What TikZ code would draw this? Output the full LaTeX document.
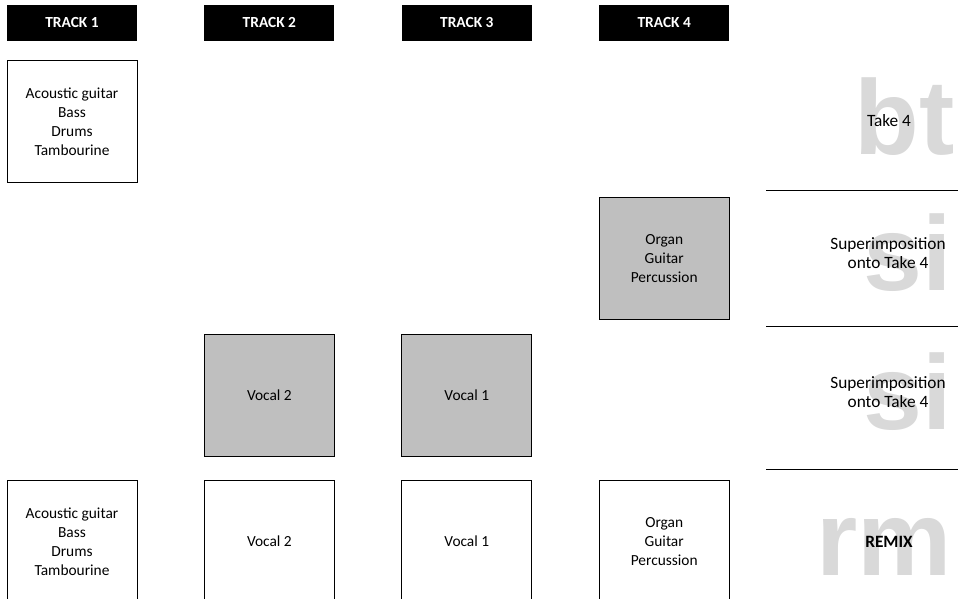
\documentclass[tikz,border=0pt]{standalone}
\usepackage{fontspec}
\setmainfont{Carlito}
\newfontfamily\tagfont{Liberation Sans}
\usetikzlibrary{positioning}
\definecolor{boxgray}{HTML}{BFBFBF}
\definecolor{biggray}{HTML}{D9D9D9}

\begin{document}
\begin{tikzpicture}[x=1pt,y=-1pt,node distance=67pt,font=\fontsize{15.4}{19}\selectfont]
            \tikzset{track/.style={fill=black, text=white, font=\fontsize{15.4}{19}\selectfont\bfseries, minimum width=130pt, minimum height=36pt, inner sep=0pt}}
            \tikzset{part/.style={draw, line width=1pt, minimum width=130pt, minimum height=122pt, inner sep=0pt, align=center}}
            \tikzset{overdub/.style={part, fill=boxgray}}
            \tikzset{tag/.style={text=biggray, font=\tagfont\fontsize{106}{106}\selectfont\bfseries, inner sep=0pt, anchor=base east}}
            \tikzset{stage/.style={align=center, inner sep=0pt, font=\fontsize{17.3}{19.5}\selectfont}}
            \useasboundingbox (0,0) rectangle (959,599);
            % track headers
            \node[track] (t1) at (72,23) {TRACK 1};
            \node[track, right=of t1] (t2) {TRACK 2};
            \node[track, right=of t2] (t3) {TRACK 3};
            \node[track, right=of t3] (t4) {TRACK 4};
            % recordings
            \node[part, below=19pt of t1] (a1) {Acoustic guitar\\Bass\\Drums\\Tambourine};
            \node[overdub, below=156pt of t4] (o4) {Organ\\Guitar\\Percussion};
            \node[overdub, below=293pt of t2] (v2) {Vocal 2};
            \node[overdub, below=293pt of t3] (v1) {Vocal 1};
            % remix
            \node[part, below=297pt of a1] (ra) {Acoustic guitar\\Bass\\Drums\\Tambourine};
            \node[part, below=23pt of v2] (rv2) {Vocal 2};
            \node[part, below=23pt of v1] (rv1) {Vocal 1};
            \node[part, below=160pt of o4] (ro) {Organ\\Guitar\\Percussion};
            % stages
            \node[tag] (bt) at (955,155) {bt};
            \node[tag] (si1) at (952,290) {si};
            \node[tag] (si2) at (952,429) {si};
            \node[tag] (rm) at (952,575) {rm};
            \node[stage] (take) at (889,121) {Take 4};
            \node[stage] (sup1) at (888,253) {Superimposition\\onto Take 4};
            \node[stage] (sup2) at (888,392) {Superimposition\\onto Take 4};
            \node[stage, font=\fontsize{17.3}{19.5}\selectfont\bfseries] (mix) at (889,542) {REMIX};
            \draw (766,190) -- (958,190);
            \draw (766,326) -- (958,326);
            \draw (766,469) -- (958,469);
        \end{tikzpicture}
\end{document}
